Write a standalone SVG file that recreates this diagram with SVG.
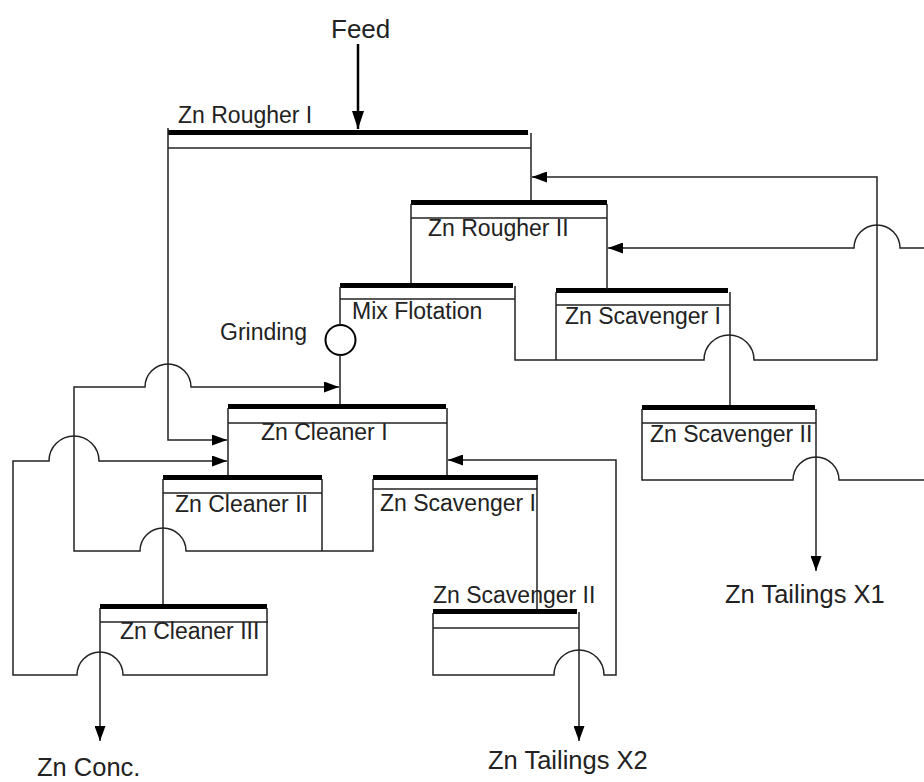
<svg xmlns="http://www.w3.org/2000/svg" width="924" height="782" viewBox="0 0 924 782">
<style>
.bar{fill:#000}
.thin{stroke:#222;stroke-width:1.5;fill:none}
.c{stroke:#222;stroke-width:1.5;fill:none}
.lbl{font-family:"Liberation Sans",Arial,sans-serif;font-size:23px;fill:#222}
.big{font-family:"Liberation Sans",Arial,sans-serif;font-size:25.5px;fill:#222}
</style>
<defs>
<marker id="ah" markerUnits="userSpaceOnUse" markerWidth="15" markerHeight="11" refX="15" refY="5.5" orient="auto">
<path d="M0,0 L15,5.5 L0,11 Z" fill="#000"/>
</marker>
<marker id="ahb" markerUnits="userSpaceOnUse" markerWidth="18" markerHeight="12" refX="18" refY="6" orient="auto">
<path d="M0,0 L18,6 L0,12 Z" fill="#000"/>
</marker>
</defs>
<rect width="924" height="782" fill="#fff"/>

<g id="feed"><text class="big" x="331" y="38" style="font-size:26px">Feed</text></g>

<g id="zn-rougher-1">
<rect class="bar" x="168" y="130" width="360" height="5"/>
<line class="thin" x1="168" y1="148" x2="531" y2="148"/>
<text class="lbl" x="178" y="123">Zn Rougher I</text>
</g>
<g id="zn-rougher-2">
<rect class="bar" x="411" y="200" width="196" height="5"/>
<line class="thin" x1="411" y1="218" x2="607" y2="218"/>
<text class="lbl" x="428" y="236">Zn Rougher II</text>
</g>
<g id="mix-flotation">
<rect class="bar" x="340" y="283" width="173" height="5"/>
<line class="thin" x1="340" y1="299" x2="515" y2="299"/>
<text class="lbl" x="352" y="319">Mix Flotation</text>
</g>
<g id="zn-scavenger-1a">
<rect class="bar" x="556" y="288" width="172" height="5"/>
<line class="thin" x1="556" y1="305" x2="730" y2="305"/>
<text class="lbl" x="565" y="324">Zn Scavenger I</text>
</g>
<g id="zn-scavenger-2a">
<rect class="bar" x="642" y="405" width="173" height="5"/>
<line class="thin" x1="642" y1="423" x2="816" y2="423"/>
<text class="lbl" x="650" y="442">Zn Scavenger II</text>
</g>
<g id="grinding">
<circle cx="340.5" cy="340" r="15" fill="none" stroke="#000" stroke-width="2"/>
<text class="lbl" x="220" y="340">Grinding</text>
</g>
<g id="zn-cleaner-1">
<rect class="bar" x="228" y="404" width="218" height="5"/>
<line class="thin" x1="228" y1="423" x2="447" y2="423"/>
<text class="lbl" x="261" y="440">Zn Cleaner I</text>
</g>
<g id="zn-cleaner-2">
<rect class="bar" x="163" y="475" width="159" height="5"/>
<line class="thin" x1="163" y1="493" x2="322" y2="493"/>
<text class="lbl" x="175" y="512">Zn Cleaner II</text>
</g>
<g id="zn-scavenger-1b">
<rect class="bar" x="373" y="475" width="165" height="5"/>
<line class="thin" x1="373" y1="489" x2="537" y2="489"/>
<text class="lbl" x="380" y="511">Zn Scavenger I</text>
</g>
<g id="zn-cleaner-3">
<rect class="bar" x="100" y="604" width="167" height="5"/>
<line class="thin" x1="100" y1="622" x2="268" y2="622"/>
<text class="lbl" x="120" y="639">Zn Cleaner III</text>
</g>
<g id="zn-scavenger-2b">
<rect class="bar" x="433" y="609" width="144" height="5"/>
<line class="thin" x1="433" y1="628" x2="579" y2="628"/>
<text class="lbl" x="433" y="603">Zn Scavenger II</text>
</g>
<g id="zn-tailings-x1"><text class="big" x="725" y="603">Zn Tailings X1</text></g>
<g id="zn-tailings-x2"><text class="big" x="488" y="769">Zn Tailings X2</text></g>
<g id="zn-conc"><text class="big" x="37" y="776">Zn Conc.</text></g>

<g id="connectors">
<path d="M358,44 L358,129" stroke="#000" stroke-width="2.5" fill="none" marker-end="url(#ahb)"/>
<path class="c" d="M168,128 L168,440 L227,440" marker-end="url(#ah)"/>
<path class="c" d="M531,133 L531,200"/>
<path class="c" d="M515,286 L515,360 L704,360 A25,25 0 0 1 754,360 L877,360 L877,177 L532,177" marker-end="url(#ah)"/>
<path class="c" d="M556,292 L556,360"/>
<path class="c" d="M411,204 L411,283"/>
<path class="c" d="M607,204 L607,289"/>
<path class="c" d="M924,248 L900,248 A23,23 0 0 0 854,248 L608,248" marker-end="url(#ah)"/>
<path class="c" d="M730,292 L730,405"/>
<path class="c" d="M340,287 L340,325"/>
<path class="c" d="M340,355 L340,405"/>
<path class="c" d="M373,479 L373,551 L186,551 A23,23 0 0 0 140,551 L74,551 L74,387 L145,387 A23,23 0 0 1 191,387 L339,387" marker-end="url(#ah)"/>
<path class="c" d="M322,479 L322,551"/>
<path class="c" d="M267,608 L267,675 L123,675 A23,23 0 0 0 77,675 L13,675 L13,461 L49,461 A25,25 0 0 1 99,461 L227,461" marker-end="url(#ah)"/>
<path class="c" d="M228,408 L228,475"/>
<path class="c" d="M447,408 L447,475"/>
<path class="c" d="M163,479 L163,604"/>
<path class="c" d="M100,608 L100,741" marker-end="url(#ah)"/>
<path class="c" d="M537,479 L537,609"/>
<path class="c" d="M433,613 L433,675 L554,675 A25,25 0 0 1 604,675 L616,675 L616,460 L448,460" marker-end="url(#ah)"/>
<path class="c" d="M579,612 L579,741" marker-end="url(#ah)"/>
<path class="c" d="M642,409 L642,480 L793,480 A23,23 0 0 1 839,480 L924,480"/>
<path class="c" d="M816,409 L816,571" marker-end="url(#ah)"/>
</g>
</svg>
